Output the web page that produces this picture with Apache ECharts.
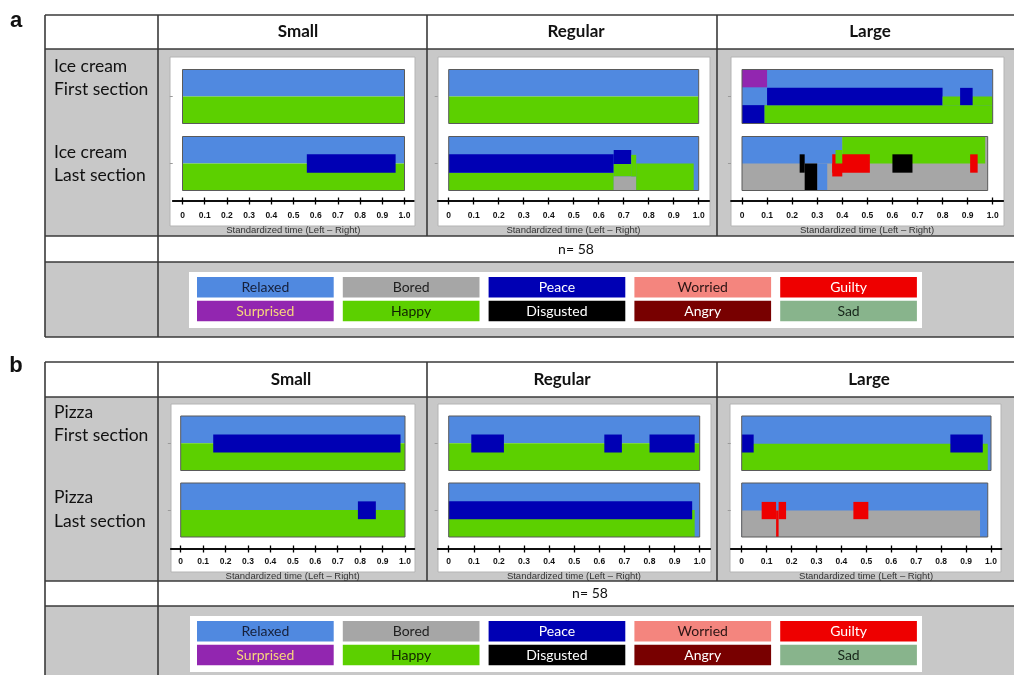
<!DOCTYPE html>
<html>
<head>
<meta charset="utf-8">
<title>Dominant emotions over standardized time</title>
<script src="https://cdn.jsdelivr.net/npm/echarts@6/dist/echarts.min.js"></script>
<style>
  html, body { margin: 0; padding: 0; background: #ffffff; }
  #chart { width: 1014px; height: 675px; }
</style>
</head>
<body>
<div id="chart"></div>
<script>
// ---- Emotion categories ----
const EMOTIONS = ['Relaxed', 'Bored', 'Peace', 'Worried', 'Guilty',
                  'Surprised', 'Happy', 'Disgusted', 'Angry', 'Sad'];
const EMOTION_COLORS = ['#5089e0', '#a6a6a6', '#0000b4', '#f4857e', '#ee0000',
                        '#9226b0', '#5cd000', '#000000', '#780000', '#88b48c'];
const LEGEND_TEXT_COLORS = ['#16203a', '#1e1e1e', '#ffffff', '#2a1414', '#ffffff',
                            '#f7d67c', '#102000', '#ffffff', '#ffffff', '#17261a'];

// ---- Axis and table labels ----
const TIME_TICKS = [0, 0.1, 0.2, 0.3, 0.4, 0.5, 0.6, 0.7, 0.8, 0.9, 1.0];
const TIME_AXIS_NAME = 'Standardized time (Left \u2013 Right)';
const SIZES = ['Small', 'Regular', 'Large'];
const FOODS = ['Ice cream', 'Pizza'];
const SECTIONS = ['First section', 'Last section'];
const PANEL_LETTERS = ['a', 'b'];
const N_LABEL = 'n= 58';

// ---- Dominance segments: [time start, time end, band low, band high, emotion] ----
const iceSmallFirst = [
  [0, 1, 0.5, 1, 'Relaxed'],
  [0, 1, 0, 0.5, 'Happy']
];
const iceSmallLast = [
  [0, 1, 0.5, 1, 'Relaxed'],
  [0, 1, 0, 0.5, 'Happy'],
  [0.56, 0.96, 0.33, 0.67, 'Peace']
];
const iceRegularFirst = [
  [0, 1, 0.5, 1, 'Relaxed'],
  [0, 1, 0, 0.5, 'Happy']
];
const iceRegularLast = [
  [0, 1, 0, 1, 'Relaxed'],
  [0, 0.66, 0, 0.33, 'Happy'],
  [0, 0.66, 0.33, 0.67, 'Peace'],
  [0.66, 0.73, 0.49, 0.75, 'Peace'],
  [0.66, 0.73, 0.26, 0.49, 'Happy'],
  [0.66, 0.75, 0, 0.26, 'Bored'],
  [0.73, 0.75, 0.26, 0.66, 'Happy'],
  [0.75, 0.98, 0, 0.5, 'Happy']
];
const iceLargeFirst = [
  [0, 1, 0, 1, 'Relaxed'],
  [0, 0.1, 0.67, 1, 'Surprised'],
  [0, 0.09, 0, 0.34, 'Peace'],
  [0.09, 1, 0, 0.34, 'Happy'],
  [0.1, 0.8, 0.34, 0.66, 'Peace'],
  [0.8, 1, 0.34, 0.5, 'Happy'],
  [0.87, 0.92, 0.34, 0.66, 'Peace']
];
const iceLargeLast = [
  [0, 0.98, 0, 1, 'Bored'],
  [0, 0.4, 0.5, 1, 'Relaxed'],
  [0.4, 0.97, 0.5, 1, 'Happy'],
  [0.3, 0.34, 0, 0.5, 'Relaxed'],
  [0.23, 0.25, 0.33, 0.67, 'Disgusted'],
  [0.25, 0.3, 0, 0.5, 'Disgusted'],
  [0.36, 0.51, 0.33, 0.67, 'Guilty'],
  [0.36, 0.4, 0.26, 0.5, 'Guilty'],
  [0.373, 0.4, 0.5, 0.75, 'Happy'],
  [0.6, 0.68, 0.33, 0.67, 'Disgusted'],
  [0.91, 0.94, 0.33, 0.67, 'Guilty']
];
const pizzaSmallFirst = [
  [0, 1, 0.5, 1, 'Relaxed'],
  [0, 1, 0, 0.5, 'Happy'],
  [0.145, 0.98, 0.33, 0.66, 'Peace']
];
const pizzaSmallLast = [
  [0, 1, 0.5, 1, 'Relaxed'],
  [0, 1, 0, 0.5, 'Happy'],
  [0.79, 0.87, 0.33, 0.66, 'Peace']
];
const pizzaRegularFirst = [
  [0, 1, 0.5, 1, 'Relaxed'],
  [0, 1, 0, 0.5, 'Happy'],
  [0.09, 0.22, 0.33, 0.66, 'Peace'],
  [0.62, 0.69, 0.33, 0.66, 'Peace'],
  [0.8, 0.98, 0.33, 0.66, 'Peace']
];
const pizzaRegularLast = [
  [0, 1, 0, 1, 'Relaxed'],
  [0, 0.98, 0, 0.5, 'Happy'],
  [0, 0.97, 0.33, 0.66, 'Peace']
];
const pizzaLargeFirst = [
  [0, 1, 0, 1, 'Relaxed'],
  [0, 0.987, 0, 0.49, 'Happy'],
  [0, 0.048, 0.33, 0.66, 'Peace'],
  [0.837, 0.967, 0.33, 0.66, 'Peace']
];
const pizzaLargeLast = [
  [0, 0.987, 0, 1, 'Relaxed'],
  [0, 0.956, 0, 0.49, 'Bored'],
  [0.08, 0.138, 0.33, 0.65, 'Guilty'],
  [0.148, 0.178, 0.33, 0.65, 'Guilty'],
  [0.138, 0.148, 0, 0.49, 'Guilty'],
  [0.448, 0.508, 0.33, 0.65, 'Guilty']
];

// panel -> size column -> section row
const PLOTS = [
  [[iceSmallFirst, iceSmallLast], [iceRegularFirst, iceRegularLast], [iceLargeFirst, iceLargeLast]],
  [[pizzaSmallFirst, pizzaSmallLast], [pizzaRegularFirst, pizzaRegularLast], [pizzaLargeFirst, pizzaLargeLast]]
];

// ---- Page layout (pixels) ----
const TABLE_LEFT = 45, TABLE_RIGHT = 1016, LABEL_COL_RIGHT = 158;
const COL_EDGES = [158, 427, 717, 1016];
const LAYOUT = [
  { letterY: 21, top: 15, headerBottom: 49, chartBottom: 236, nBottom: 262, legendBottom: 337,
    headerY: 32, headerX: [298, 576, 870], rowLabelY: [78, 164], nX: 576,
    panels: [[170, 415], [438, 710], [731, 1004]], panelTop: 57, panelBottom: 226,
    plotX: [[182.5, 404.5], [448.7, 698.7], [742, 992.7]],
    bands: [[69.5, 123.5], [136.5, 190.5]], axisY: 201, labelMargin: 10, nameGap: 24.5,
    legendBox: [189, 272, 922, 328], legendRows: [277, 300.7] },
  { letterY: 366, top: 362, headerBottom: 397, chartBottom: 581, nBottom: 606, legendBottom: 681,
    headerY: 380, headerX: [291, 562, 869], rowLabelY: [424, 509.5], nX: 590,
    panels: [[171, 415], [438, 711], [730, 1001]], panelTop: 404, panelBottom: 572,
    plotX: [[180.7, 405], [448.7, 699.7], [741.7, 991]],
    bands: [[416, 470.5], [483, 537]], axisY: 549, labelMargin: 8, nameGap: 22,
    legendBox: [190, 616, 922, 672], legendRows: [621, 644.7] }
];
const AXIS_MIN = -0.044, AXIS_MAX = 1.042;
const SWATCH_X0 = 197, SWATCH_PITCH = 145.8, SWATCH_W = 136.7, SWATCH_H = 20.6;

const GRAY = '#c8c8c8', RULE = '#3a3a3a';
const TABLE_FONT = 'Lato, "Open Sans", sans-serif';
const AXIS_FONT = '"Liberation Sans", Arial, sans-serif';

const grids = [], xAxes = [], yAxes = [], series = [], graphics = [];

function renderSegment(params, api) {
  const a = api.coord([api.value(0), api.value(3)]);
  const b = api.coord([api.value(1), api.value(2)]);
  return {
    type: 'rect',
    shape: { x: a[0], y: a[1], width: b[0] - a[0], height: b[1] - a[1] },
    style: { fill: EMOTION_COLORS[api.value(4)] }
  };
}
function renderFrame(params, api) {
  const a = api.coord([api.value(0), 1]);
  const b = api.coord([api.value(1), 0]);
  return {
    type: 'rect',
    shape: { x: a[0], y: a[1], width: b[0] - a[0], height: b[1] - a[1] },
    style: { fill: 'none', stroke: '#5a5a5a', lineWidth: 1 }
  };
}
const tickFmt = v => (v === 0 ? '0' : v.toFixed(1));

LAYOUT.forEach((L, p) => {
  // ---- table backgrounds ----
  graphics.push({ type: 'rect', z: -20, shape: { x: TABLE_LEFT, y: L.headerBottom, width: TABLE_RIGHT - TABLE_LEFT, height: L.chartBottom - L.headerBottom }, style: { fill: GRAY } });
  graphics.push({ type: 'rect', z: -20, shape: { x: TABLE_LEFT, y: L.nBottom, width: TABLE_RIGHT - TABLE_LEFT, height: L.legendBottom - L.nBottom }, style: { fill: GRAY } });
  // white chart panels
  L.panels.forEach(([x0, x1]) => {
    graphics.push({ type: 'rect', z: -15, shape: { x: x0, y: L.panelTop, width: x1 - x0, height: L.panelBottom - L.panelTop }, style: { fill: '#ffffff', stroke: '#b4b4b4', lineWidth: 1 } });
  });
  // ---- table rules ----
  [L.top, L.headerBottom, L.chartBottom, L.nBottom, L.legendBottom].forEach(y => {
    graphics.push({ type: 'line', z: -5, shape: { x1: TABLE_LEFT, y1: y, x2: TABLE_RIGHT, y2: y }, style: { stroke: RULE, lineWidth: 1.6 } });
  });
  [TABLE_LEFT, LABEL_COL_RIGHT].forEach(x => {
    graphics.push({ type: 'line', z: -5, shape: { x1: x, y1: L.top, x2: x, y2: L.legendBottom }, style: { stroke: RULE, lineWidth: 1.6 } });
  });
  [COL_EDGES[1], COL_EDGES[2]].forEach(x => {
    graphics.push({ type: 'line', z: -5, shape: { x1: x, y1: L.top, x2: x, y2: L.chartBottom }, style: { stroke: RULE, lineWidth: 1.6 } });
  });
  // ---- table texts ----
  graphics.push({ type: 'text', z: 10, style: { text: PANEL_LETTERS[p], x: 16, y: L.letterY, align: 'center', verticalAlign: 'middle', fontFamily: AXIS_FONT, fontWeight: 'bold', fontSize: 22, fill: '#111' } });
  SIZES.forEach((s, c) => {
    graphics.push({ type: 'text', z: 10, style: { text: s, x: L.headerX[c], y: L.headerY, align: 'center', verticalAlign: 'middle', fontFamily: TABLE_FONT, fontWeight: 'bold', fontSize: 17, fill: '#111' } });
  });
  SECTIONS.forEach((sec, r) => {
    graphics.push({ type: 'text', z: 10, style: { text: FOODS[p] + '\n' + sec, x: 54, y: L.rowLabelY[r], align: 'left', verticalAlign: 'middle', lineHeight: 23.5, fontFamily: TABLE_FONT, fontSize: 17.5, fill: '#111' } });
  });
  graphics.push({ type: 'text', z: 10, style: { text: N_LABEL, x: L.nX, y: (L.chartBottom + L.nBottom) / 2, align: 'center', verticalAlign: 'middle', fontFamily: TABLE_FONT, fontSize: 14, fill: '#111' } });
  // ---- emotion key ----
  const [bx0, by0, bx1, by1] = L.legendBox;
  graphics.push({ type: 'rect', z: -10, shape: { x: bx0, y: by0, width: bx1 - bx0, height: by1 - by0 }, style: { fill: '#ffffff' } });
  EMOTIONS.forEach((name, i) => {
    const col = i % 5, row = Math.floor(i / 5);
    const x = SWATCH_X0 + col * SWATCH_PITCH, y = L.legendRows[row];
    graphics.push({ type: 'rect', z: 5, shape: { x: x, y: y, width: SWATCH_W, height: SWATCH_H }, style: { fill: EMOTION_COLORS[i] } });
    graphics.push({ type: 'text', z: 10, style: { text: name, x: x + SWATCH_W / 2, y: y + SWATCH_H / 2, align: 'center', verticalAlign: 'middle', fontFamily: TABLE_FONT, fontSize: 14, fill: LEGEND_TEXT_COLORS[i] } });
  });

  // ---- band plots ----
  SIZES.forEach((s, c) => {
    const [t0px, t1px] = L.plotX[c];
    const pxPerUnit = t1px - t0px;
    const gridLeft = t0px + AXIS_MIN * pxPerUnit;
    const gridWidth = (AXIS_MAX - AXIS_MIN) * pxPerUnit;
    SECTIONS.forEach((sec, r) => {
      const [yTop, yBottom] = L.bands[r];
      const gi = grids.length;
      grids.push({ left: gridLeft, top: yTop, width: gridWidth, height: yBottom - yTop });
      const xa = { gridIndex: gi, type: 'value', min: AXIS_MIN, max: AXIS_MAX, splitLine: { show: false } };
      if (r === 0) {
        // carries the downward ticks, tick labels and axis name on the shared time axis
        Object.assign(xa, {
          position: 'bottom', offset: L.axisY - yBottom,
          axisLine: { show: true, onZero: false, lineStyle: { color: '#000', width: 1.5 } },
          axisTick: { show: true, inside: false, length: 3.5, customValues: TIME_TICKS, lineStyle: { color: '#000', width: 1.3 } },
          axisLabel: { show: true, customValues: TIME_TICKS, formatter: tickFmt, margin: L.labelMargin, fontFamily: AXIS_FONT, fontWeight: 'bold', fontSize: 8.5, color: '#111' },
          name: TIME_AXIS_NAME, nameLocation: 'middle', nameGap: L.nameGap,
          nameTextStyle: { fontFamily: AXIS_FONT, fontSize: 9.5, color: '#333' }
        });
      } else {
        // upward half of the crossing ticks
        Object.assign(xa, {
          position: 'bottom', offset: L.axisY - yBottom,
          axisLine: { show: true, onZero: false, lineStyle: { color: '#000', width: 1.5 } },
          axisTick: { show: true, inside: true, length: 3.5, customValues: TIME_TICKS, lineStyle: { color: '#000', width: 1.3 } },
          axisLabel: { show: false }
        });
      }
      xAxes.push(xa);
      yAxes.push({
        gridIndex: gi, type: 'value', min: 0, max: 1, position: 'left',
        axisLine: { show: false, onZero: false },
        axisTick: { show: true, customValues: [0.5], length: 3, lineStyle: { color: '#9a9a9a' } },
        axisLabel: { show: false }, splitLine: { show: false }
      });
      const segs = PLOTS[p][c][r];
      const data = segs.map(d => [d[0], d[1], d[2], d[3], EMOTIONS.indexOf(d[4])]);
      const tEnd = Math.max.apply(null, segs.map(d => d[1]));
      series.push({
        type: 'custom', name: FOODS[p] + ' ' + s + ' ' + sec,
        xAxisIndex: gi, yAxisIndex: gi,
        renderItem: renderSegment,
        encode: { x: [0, 1], y: [2, 3] },
        data: data, silent: true, animation: false, z: 2
      });
      series.push({
        type: 'custom', xAxisIndex: gi, yAxisIndex: gi,
        renderItem: renderFrame,
        encode: { x: [0, 1] },
        data: [[0, tEnd]], silent: true, animation: false, z: 3
      });
    });
  });
});

const chart = echarts.init(document.getElementById('chart'), null, { renderer: 'canvas' });
chart.setOption({
  backgroundColor: '#ffffff',
  animation: false,
  grid: grids,
  xAxis: xAxes,
  yAxis: yAxes,
  series: series,
  graphic: { elements: graphics }
});
</script>
</body>
</html>
